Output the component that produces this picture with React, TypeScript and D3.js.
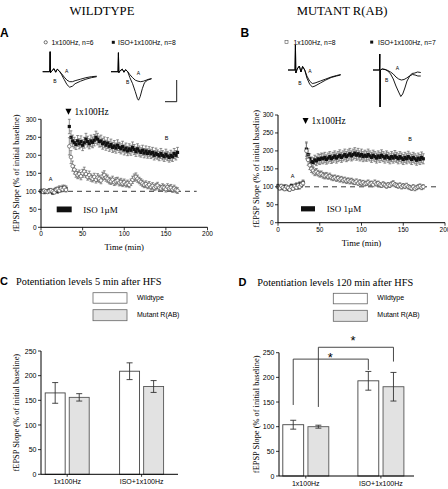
import React from "react";
import * as d3 from "d3";

const SERIF = "'Liberation Serif', 'Times New Roman', serif";
const SANS = "'Liberation Sans', Arial, sans-serif";

type Pt = [number, number, number]; // [time (min), fEPSP slope %, SEM]

// ---------- Panel A: WILDTYPE time course ----------
const wt1x: Pt[] = [
  [0,101,4],[2,99,3],[4,102,4],[6,100,3],[8,98,4],[10,101,3],[12,103,5],[14,100,4],[16,97,4],[18,104,5],
  [20,106,6],[22,102,5],[24,108,6],[26,105,6],[28,110,7],[30,104,6],
  [34,225,24],[36,195,18],[38,170,14],[40,160,12],[42,150,11],[44,145,10],[46,148,11],[48,142,10],[50,150,11],[52,155,12],
  [54,148,10],[56,140,9],[58,145,11],[60,138,10],[62,135,9],[64,140,10],[66,132,9],[68,138,11],[70,135,10],[72,130,9],
  [74,142,11],[76,145,12],[78,138,10],[80,135,10],[82,130,9],[84,128,9],[86,132,10],[88,125,9],[90,128,10],[92,130,9],
  [94,124,9],[96,126,10],[98,122,9],[100,125,9],[102,120,8],[104,122,9],[106,118,8],[108,125,9],[110,132,10],[112,138,10],
  [114,140,11],[116,135,10],[118,130,9],[120,126,9],[122,122,9],[124,118,8],[126,120,9],[128,115,8],[130,118,9],[132,112,8],
  [134,115,9],[136,110,8],[138,113,9],[140,116,9],[142,110,8],[144,108,8],[146,112,9],[148,110,8],[150,106,8],[152,112,9],
  [154,108,8],[156,110,9],[158,105,8],[160,108,9],[162,104,8],[164,102,8],
];
const wtIso: Pt[] = [
  [0,100,5],[2,102,4],[4,98,5],[6,101,4],[8,99,5],[10,103,4],[12,100,5],[14,96,5],[16,102,6],[18,105,6],
  [20,100,6],[22,108,7],[24,104,6],[26,110,7],[28,106,6],[30,108,7],
  [34,280,20],[36,250,18],[38,240,16],[40,235,15],[42,230,14],[44,240,15],[46,232,14],[48,238,16],[50,228,15],[52,235,15],
  [54,245,16],[56,238,15],[58,232,14],[60,240,16],[62,236,15],[64,242,16],[66,250,17],[68,245,16],[70,238,15],[72,240,16],
  [74,232,15],[76,236,15],[78,228,14],[80,234,15],[82,225,14],[84,230,15],[86,222,14],[88,226,15],[90,220,14],[92,228,15],
  [94,222,14],[96,218,14],[98,224,15],[100,215,14],[102,220,14],[104,212,13],[106,218,14],[108,214,14],[110,222,15],[112,216,14],
  [114,210,13],[116,218,14],[118,212,14],[120,208,13],[122,214,14],[124,206,13],[126,212,14],[128,205,13],[130,210,14],[132,204,13],
  [134,208,14],[136,200,13],[138,206,14],[140,202,13],[142,198,13],[144,205,14],[146,200,13],[148,196,13],[150,203,14],[152,198,13],
  [154,194,13],[156,200,14],[158,196,13],[160,205,14],[162,200,13],[164,208,14],
];

// ---------- Panel B: MUTANT R(AB) time course ----------
const mut1x: Pt[] = [
  [0,100,5],[2,96,5],[4,102,5],[6,98,4],[8,94,5],[10,100,5],[12,97,4],[14,92,5],[16,99,5],[18,95,5],
  [20,102,6],[22,98,5],[24,104,6],[26,100,6],[28,106,6],[30,110,7],
  [34,200,22],[36,175,15],[38,160,12],[40,150,10],[42,145,9],[44,140,9],[46,142,9],[48,138,8],[50,135,8],[52,136,8],
  [54,132,8],[56,130,8],[58,132,8],[60,128,7],[62,130,8],[64,126,7],[66,124,7],[68,126,7],[70,122,7],[72,124,7],
  [74,120,7],[76,122,7],[78,118,7],[80,120,7],[82,116,7],[84,118,7],[86,115,7],[88,117,7],[90,114,7],[92,112,6],
  [94,115,7],[96,110,6],[98,113,7],[100,110,6],[102,112,6],[104,108,6],[106,110,6],[108,112,7],[110,108,6],[112,110,6],
  [114,106,6],[116,112,7],[118,108,6],[120,110,6],[122,106,6],[124,104,6],[126,108,6],[128,105,6],[130,102,6],[132,106,6],
  [134,104,6],[136,108,6],[138,110,7],[140,106,6],[142,104,6],[144,102,6],[146,105,6],[148,100,6],[150,103,6],[152,101,6],
  [154,104,6],[156,100,6],[158,98,6],[160,96,6],[162,100,6],[164,95,6],[166,98,6],[168,100,6],[170,102,6],[172,98,6],[174,100,6],
];
const mutIso: Pt[] = [
  [0,102,5],[2,98,5],[4,100,5],[6,96,5],[8,101,5],[10,99,4],[12,94,5],[14,98,5],[16,103,5],[18,97,5],
  [20,100,6],[22,105,6],[24,99,6],[26,108,6],[28,104,6],[30,112,7],
  [34,205,20],[36,190,16],[38,178,14],[40,170,13],[42,168,13],[44,175,13],[46,172,13],[48,178,14],[50,176,14],[52,180,14],
  [54,178,14],[56,182,14],[58,176,13],[60,180,14],[62,184,14],[64,178,13],[66,182,14],[68,186,14],[70,180,14],[72,184,14],
  [74,188,15],[76,182,14],[78,186,14],[80,190,15],[82,184,14],[84,188,15],[86,192,15],[88,186,14],[90,190,15],[92,194,15],
  [94,188,14],[96,192,15],[98,186,14],[100,190,15],[102,184,14],[104,188,14],[106,185,14],[108,190,15],[110,186,14],[112,182,14],
  [114,188,14],[116,184,14],[118,180,14],[120,186,14],[122,182,14],[124,188,15],[126,184,14],[128,180,14],[130,186,14],[132,182,14],
  [134,178,14],[136,184,14],[138,180,14],[140,186,15],[142,182,14],[144,178,14],[146,184,14],[148,180,14],[150,176,14],[152,182,14],
  [154,178,14],[156,184,15],[158,180,14],[160,176,14],[162,182,14],[164,178,14],[166,174,14],[168,180,14],[170,176,14],[172,182,15],[174,178,14],
];

const timeTicks = [0, 50, 100, 150, 200];
const slopeTicks = [0, 50, 100, 150, 200, 250, 300];
const hfsTime = 33;

// ---------- Insets: fEPSP traces [ms, mV] ----------
type TP = [number, number];
const traceA1_A: TP[] = [[0,0],[2.6,0],[2.75,2.0],[2.9,-0.1],[3.4,0.1],[4.2,0.3],[4.8,-0.05],[5.4,0.25],[6.2,0.05],[7,-0.2],[8,-0.55],[9,-0.85],[10,-1.0],[11,-1.0],[12,-0.9],[14,-0.75],[16,-0.6],[18,-0.5],[20,-0.45]];
const traceA1_B: TP[] = [[0,0],[2.6,0],[2.75,2.0],[2.9,-0.1],[3.4,0.1],[4.2,0.3],[4.8,-0.05],[5.4,0.25],[6.2,0.05],[7,-0.3],[8,-0.8],[9,-1.3],[10,-1.55],[11,-1.45],[12,-1.2],[14,-0.95],[16,-0.75],[18,-0.6],[20,-0.5]];
const traceA2_A: TP[] = [[0,0],[2.6,0],[2.75,1.9],[2.9,-0.1],[3.4,0.1],[4.2,0.25],[4.8,-0.05],[5.4,0.2],[6.2,0],[7,-0.3],[8,-0.6],[9,-0.85],[10,-0.95],[11,-1.0],[12,-0.95],[13,-0.85],[14,-0.75],[15,-0.7]];
const traceA2_B: TP[] = [[0,0],[2.6,0],[2.75,1.9],[2.9,-0.1],[3.4,0.1],[4.2,0.25],[4.8,-0.05],[5.4,0.2],[6.2,0],[7,-0.6],[8,-1.2],[9,-2.0],[9.8,-2.7],[10.2,-2.85],[10.8,-2.5],[11.6,-1.7],[12.4,-1.1],[13.5,-0.85],[15,-0.7]];
const traceB1_A: TP[] = [[0,0],[2.6,0],[2.75,2.5],[2.9,-0.3],[3.4,0.1],[4.2,0.4],[4.8,-0.2],[5.4,0.35],[6.2,0],[7,-0.6],[8,-1.1],[9,-1.35],[10,-1.3],[12,-1.1],[14,-0.9],[16,-0.7],[18,-0.55],[19.5,-0.45]];
const traceB1_B: TP[] = [[0,0],[2.6,0],[2.75,2.5],[2.9,-0.3],[3.4,0.1],[4.2,0.4],[4.8,-0.2],[5.4,0.35],[6.2,0],[7,-0.8],[8,-1.4],[9,-1.7],[10,-1.6],[12,-1.3],[14,-1.0],[16,-0.75],[18,-0.6],[19.5,-0.5]];
const traceB2_A: TP[] = [[0,0],[2.4,0],[2.5,1.6],[2.62,-3.7],[2.75,0],[3.4,0.1],[4.5,0.05],[5.5,-0.05],[6.5,-0.2],[7.5,-0.4],[8.5,-0.7],[9.5,-0.9],[10.5,-1.0],[11.5,-0.95],[12.5,-0.8],[13.5,-0.6],[14.5,-0.35],[15.5,-0.3],[16.5,-0.2],[17.7,-0.25]];
const traceB2_B: TP[] = [[0,0],[2.4,0],[2.5,1.6],[2.62,-3.7],[2.75,0],[3.4,0.1],[4.5,0.05],[5.5,-0.1],[6.5,-0.4],[7.5,-0.9],[8.5,-1.6],[9.5,-2.2],[10.3,-2.65],[11,-2.4],[11.8,-1.8],[12.6,-1.1],[13.6,-0.6],[14.6,-0.45],[15.6,-0.5],[16.6,-0.6],[17.7,-0.6]];

// ---------- Panels C & D: bar charts ----------
const groups = ["1x100Hz", "ISO+1x100Hz"];
const genotypes = ["Wildtype", "Mutant R(AB)"];
const barTicks = [0, 50, 100, 150, 200, 250];
const c5Wt = [165, 209];
const c5WtErr = [21, 17];
const c5Mut = [156, 178];
const c5MutErr = [7.5, 12];
const d120Wt = [104, 193];
const d120WtErr = [9, 19];
const d120Mut = [100, 181];
const d120MutErr = [3, 29];
// significance brackets: genotype index, left bottom, top, right bottom (% values)
const brackets = [
  { g: 0, left: 144, top: 237, right: 215, star: 244 },
  { g: 1, left: 140, top: 261, right: 232, star: 278 },
];

type Sc = d3.ScaleLinear<number, number>;

function Scatter({ data, x, y, kind }: { data: Pt[]; x: Sc; y: Sc; kind: "circle" | "square" }) {
  return (
    <g>
      {data.map(([t, v, e], i) => (
        <g key={"e" + i} stroke="#6a6a6a" strokeWidth={0.75}>
          <line x1={x(t)} x2={x(t)} y1={y(v - e)} y2={y(v + e)} />
          <line x1={x(t) - 1.4} x2={x(t) + 1.4} y1={y(v + e)} y2={y(v + e)} />
          <line x1={x(t) - 1.4} x2={x(t) + 1.4} y1={y(v - e)} y2={y(v - e)} />
        </g>
      ))}
      {data.map(([t, v], i) =>
        kind === "circle" ? (
          <circle key={"p" + i} cx={x(t)} cy={y(v)} r={1.8} fill="#fff" stroke="#555" strokeWidth={0.7} />
        ) : (
          <rect key={"p" + i} x={x(t) - 1.6} y={y(v) - 1.6} width={3.2} height={3.2} fill="#111" />
        )
      )}
    </g>
  );
}

function YAxis({ y, x0, ticks, fs }: { y: Sc; x0: number; ticks: number[]; fs: number }) {
  return (
    <g>
      <line x1={x0} x2={x0} y1={y(ticks[0])} y2={y(ticks[ticks.length - 1])} stroke="#000" strokeWidth={1} />
      {ticks.map((t) => (
        <g key={t}>
          <line x1={x0 - 3} x2={x0} y1={y(t)} y2={y(t)} stroke="#000" strokeWidth={0.8} />
          <text x={x0 - 4.5} y={y(t) + fs * 0.36} textAnchor="end" fontSize={fs} fontFamily={SANS}>{t}</text>
        </g>
      ))}
    </g>
  );
}

function TimeCourse(props: {
  x: Sc; y: Sc; s1: Pt[]; s2: Pt[]; yLabelX: number; dashEnd: number;
  labelA: [number, number]; labelB: [number, number]; isoBox: [number, number, number, number]; isoText: [number, number];
  arrowY: number;
}) {
  const { x, y, s1, s2 } = props;
  const y0 = y(0);
  const x0 = x(0);
  const midY = (y(0) + y(300)) / 2;
  return (
    <g>
      <line x1={x(0)} x2={x(props.dashEnd)} y1={y(100)} y2={y(100)} stroke="#222" strokeWidth={0.9} strokeDasharray="5,4" />
      <Scatter data={s2} x={x} y={y} kind="square" />
      <Scatter data={s1} x={x} y={y} kind="circle" />
      <YAxis y={y} x0={x0} ticks={slopeTicks} fs={6.5} />
      <line x1={x0} x2={x(200)} y1={y0} y2={y0} stroke="#000" strokeWidth={1} />
      {timeTicks.map((t) => (
        <g key={t}>
          <line x1={x(t)} x2={x(t)} y1={y0} y2={y0 + 3} stroke="#000" strokeWidth={0.8} />
          <text x={x(t)} y={y0 + 9} textAnchor="middle" fontSize={6.5} fontFamily={SANS}>{t}</text>
        </g>
      ))}
      <text x={(x(0) + x(200)) / 2} y={y0 + 23} textAnchor="middle" fontSize={8.7} fontFamily={SERIF}>Time (min)</text>
      <text transform={`translate(${props.yLabelX},${midY}) rotate(-90)`} textAnchor="middle" dy="0.35em" fontSize={8.4} fontFamily={SERIF}>
        fEPSP Slope (% of initial baseline)
      </text>
      <path d={`M${x(hfsTime) - 3},${props.arrowY - 3}L${x(hfsTime) + 3},${props.arrowY - 3}L${x(hfsTime)},${props.arrowY + 3}Z`} fill="#000" />
      <text x={x(hfsTime) + 6} y={props.arrowY + 3} fontSize={9.3} fontFamily={SERIF}>1x100Hz</text>
      <text x={props.labelA[0]} y={props.labelA[1]} fontSize={5.5} fontFamily={SANS} textAnchor="middle">A</text>
      <text x={props.labelB[0]} y={props.labelB[1]} fontSize={5.5} fontFamily={SANS} textAnchor="middle">B</text>
      <rect x={props.isoBox[0]} y={props.isoBox[1]} width={props.isoBox[2]} height={props.isoBox[3]} fill="#111" />
      <text x={props.isoText[0]} y={props.isoText[1]} fontSize={9} fontFamily={SERIF}>ISO 1µM</text>
    </g>
  );
}

function Trace({ data, ox, by }: { data: TP[]; ox: number; by: number }) {
  const xs = d3.scaleLinear().domain([0, 1]).range([ox, ox + 2.7]);
  const ys = d3.scaleLinear().domain([0, 1]).range([by, by - 10]);
  const line = d3.line<TP>().x((d) => xs(d[0])).y((d) => ys(d[1])).curve(d3.curveLinear);
  return <path d={line(data) || ""} fill="none" stroke="#000" strokeWidth={0.9} />;
}

function BarPanel(props: {
  y: Sc; x0: number; xEnd: number; centers: number[]; half: number;
  wt: number[]; wtErr: number[]; mut: number[]; mutErr: number[]; labelX: number; showBrackets?: boolean;
}) {
  const { y } = props;
  const inner = d3.scaleBand<string>().domain(genotypes).range([-props.half, props.half]).paddingInner(0.17);
  const gx = d3.scalePoint<string>().domain(groups).range(props.centers as [number, number]);
  const series = [
    { vals: props.wt, errs: props.wtErr, fill: "#fff", stroke: "#444" },
    { vals: props.mut, errs: props.mutErr, fill: "#e2e2e2", stroke: "#555" },
  ];
  const y0 = y(0);
  const bw = inner.bandwidth();
  const cx = (g: number, s: number) => (gx(groups[g]) as number) + (inner(genotypes[s]) as number) + bw / 2;
  return (
    <g>
      {series.map((s, si) =>
        s.vals.map((v, gi) => {
          const bx = cx(gi, si) - bw / 2;
          return (
            <g key={si + "-" + gi}>
              <rect x={bx} y={y(v)} width={bw} height={y0 - y(v)} fill={s.fill} stroke={s.stroke} strokeWidth={0.9} />
              <g stroke="#333" strokeWidth={0.9}>
                <line x1={cx(gi, si)} x2={cx(gi, si)} y1={y(v - s.errs[gi])} y2={y(v + s.errs[gi])} />
                <line x1={cx(gi, si) - 3} x2={cx(gi, si) + 3} y1={y(v + s.errs[gi])} y2={y(v + s.errs[gi])} />
                <line x1={cx(gi, si) - 3} x2={cx(gi, si) + 3} y1={y(v - s.errs[gi])} y2={y(v - s.errs[gi])} />
              </g>
            </g>
          );
        })
      )}
      <YAxis y={y} x0={props.x0} ticks={barTicks} fs={7} />
      <line x1={props.x0} x2={props.xEnd} y1={y0} y2={y0} stroke="#000" strokeWidth={1} />
      {groups.map((g) => (
        <g key={g}>
          <line x1={gx(g) as number} x2={gx(g) as number} y1={y0} y2={y0 + 2.5} stroke="#000" strokeWidth={0.8} />
          <text x={gx(g) as number} y={y0 + 10} textAnchor="middle" fontSize={7} fontFamily={SANS}>{g}</text>
        </g>
      ))}
      <text transform={`translate(${props.labelX},${(y(0) + y(250)) / 2}) rotate(-90)`} textAnchor="middle" dy="0.35em" fontSize={8.4} fontFamily={SERIF}>
        fEPSP Slope (% of initial baseline)
      </text>
      {props.showBrackets &&
        brackets.map((b, i) => {
          const xl = cx(0, b.g);
          const xr = cx(1, b.g);
          return (
            <g key={i}>
              <path d={`M${xl},${y(b.left)}V${y(b.top)}H${xr}V${y(b.right)}`} fill="none" stroke="#333" strokeWidth={0.9} />
              <text x={(xl + xr) / 2 + (i === 0 ? -0.5 : -3)} y={y(b.star) + 6} textAnchor="middle" fontSize={13} fontFamily={SANS}>*</text>
            </g>
          );
        })}
    </g>
  );
}

function BarLegend({ x, y }: { x: number; y: number }) {
  return (
    <g>
      <rect x={x} y={y} width={34} height={10.5} fill="#fff" stroke="#666" strokeWidth={0.8} />
      <text x={x + 44} y={y + 7} fontSize={7} fontFamily={SANS}>Wildtype</text>
      <rect x={x} y={y + 17} width={34} height={11} fill="#e2e2e2" stroke="#666" strokeWidth={0.8} />
      <text x={x + 44} y={y + 24} fontSize={7} fontFamily={SANS}>Mutant R(AB)</text>
    </g>
  );
}

export default function App() {
  const xA = d3.scaleLinear().domain([0, 200]).range([41, 207.5]);
  const yA = d3.scaleLinear().domain([0, 300]).range([227.3, 119.3]);
  const xB = d3.scaleLinear().domain([0, 200]).range([278, 445]);
  const yB = d3.scaleLinear().domain([0, 300]).range([222.7, 115]);
  const yC = d3.scaleLinear().domain([0, 250]).range([474.3, 351]);
  const yD = d3.scaleLinear().domain([0, 250]).range([476, 352.7]);

  return (
    <svg width={448} height={489} style={{ position: "fixed", left: 0, top: 0, background: "#fff" }}>
      <rect width={448} height={489} fill="#fff" />
      <text x={102} y={14.5} textAnchor="middle" fontSize={12.7} fontFamily={SERIF}>WILDTYPE</text>
      <text x={342} y={14.5} textAnchor="middle" fontSize={12.7} fontFamily={SERIF}>MUTANT R(AB)</text>

      {/* Panel A */}
      <text x={0} y={37} fontSize={12} fontWeight="bold" fontFamily={SANS}>A</text>
      <circle cx={45.7} cy={42.3} r={1.6} fill="#fff" stroke="#333" strokeWidth={0.7} />
      <text x={51.5} y={44.7} fontSize={6.8} fontFamily={SANS}>1x100Hz, n=6</text>
      <rect x={111.8} y={40.8} width={3} height={3} fill="#111" />
      <text x={118} y={44.7} fontSize={6.8} fontFamily={SANS}>ISO+1x100Hz, n=8</text>
      <Trace data={traceA1_A} ox={42.7} by={71.7} />
      <Trace data={traceA1_B} ox={42.7} by={71.7} />
      <Trace data={traceA2_A} ox={111} by={71.7} />
      <Trace data={traceA2_B} ox={111} by={71.7} />
      <text x={66.7} y={72.5} fontSize={5} fontFamily={SANS} textAnchor="middle">A</text>
      <text x={55} y={83} fontSize={5} fontFamily={SANS} textAnchor="middle">B</text>
      <text x={138.3} y={74.5} fontSize={5} fontFamily={SANS} textAnchor="middle">A</text>
      <text x={127.7} y={83.5} fontSize={5} fontFamily={SANS} textAnchor="middle">B</text>
      <path d="M165,101.7H176.7V80" fill="none" stroke="#000" strokeWidth={0.9} />

      <TimeCourse x={xA} y={yA} s1={wt1x} s2={wtIso} yLabelX={15.7} dashEnd={187}
        labelA={[50.7, 181]} labelB={[166.7, 139.5]} isoBox={[56.7, 206.5, 15, 5.8]} isoText={[83.3, 212.5]} arrowY={111.7} />

      {/* Panel B */}
      <text x={240.5} y={37} fontSize={12} fontWeight="bold" fontFamily={SANS}>B</text>
      <rect x={285} y={40.6} width={3} height={3} fill="#fff" stroke="#555" strokeWidth={0.6} />
      <text x={293.5} y={44.5} fontSize={6.8} fontFamily={SANS}>1x100Hz, n=8</text>
      <rect x={370.2} y={40.6} width={3} height={3} fill="#111" />
      <text x={378} y={44.5} fontSize={6.8} fontFamily={SANS}>ISO+1x100Hz, n=7</text>
      <Trace data={traceB1_A} ox={288} by={70} />
      <Trace data={traceB1_B} ox={288} by={70} />
      <Trace data={traceB2_A} ox={373} by={70} />
      <Trace data={traceB2_B} ox={373} by={70} />
      <text x={310} y={72.5} fontSize={5} fontFamily={SANS} textAnchor="middle">A</text>
      <text x={300} y={85} fontSize={5} fontFamily={SANS} textAnchor="middle">B</text>
      <text x={397.3} y={70} fontSize={5} fontFamily={SANS} textAnchor="middle">A</text>
      <text x={386.7} y={82} fontSize={5} fontFamily={SANS} textAnchor="middle">B</text>

      <TimeCourse x={xB} y={yB} s1={mut1x} s2={mutIso} yLabelX={255.7} dashEnd={190}
        labelA={[292.7, 177.5]} labelB={[410, 141]} isoBox={[301, 206.2, 14, 5.2]} isoText={[326.7, 212]} arrowY={121} />

      {/* Panel C */}
      <text x={0} y={284.5} fontSize={11} fontWeight="bold" fontFamily={SANS}>C</text>
      <text x={16} y={284.5} fontSize={10.3} fontFamily={SERIF}>Potentiation levels 5 min after HFS</text>
      <BarLegend x={93} y={292.7} />
      <BarPanel y={yC} x0={41} xEnd={178} centers={[67.2, 141.6]} half={22} wt={c5Wt} wtErr={c5WtErr}
        mut={c5Mut} mutErr={c5MutErr} labelX={15.7} />

      {/* Panel D */}
      <text x={238.5} y={285.5} fontSize={11} fontWeight="bold" fontFamily={SANS}>D</text>
      <text x={257.3} y={285.5} fontSize={10.3} fontFamily={SERIF}>Potentiation levels 120 min after HFS</text>
      <BarLegend x={333.3} y={293.3} />
      <BarPanel y={yD} x0={279} xEnd={414} centers={[305.8, 380.9]} half={23} wt={d120Wt} wtErr={d120WtErr}
        mut={d120Mut} mutErr={d120MutErr} labelX={255.7} showBrackets />
    </svg>
  );
}
